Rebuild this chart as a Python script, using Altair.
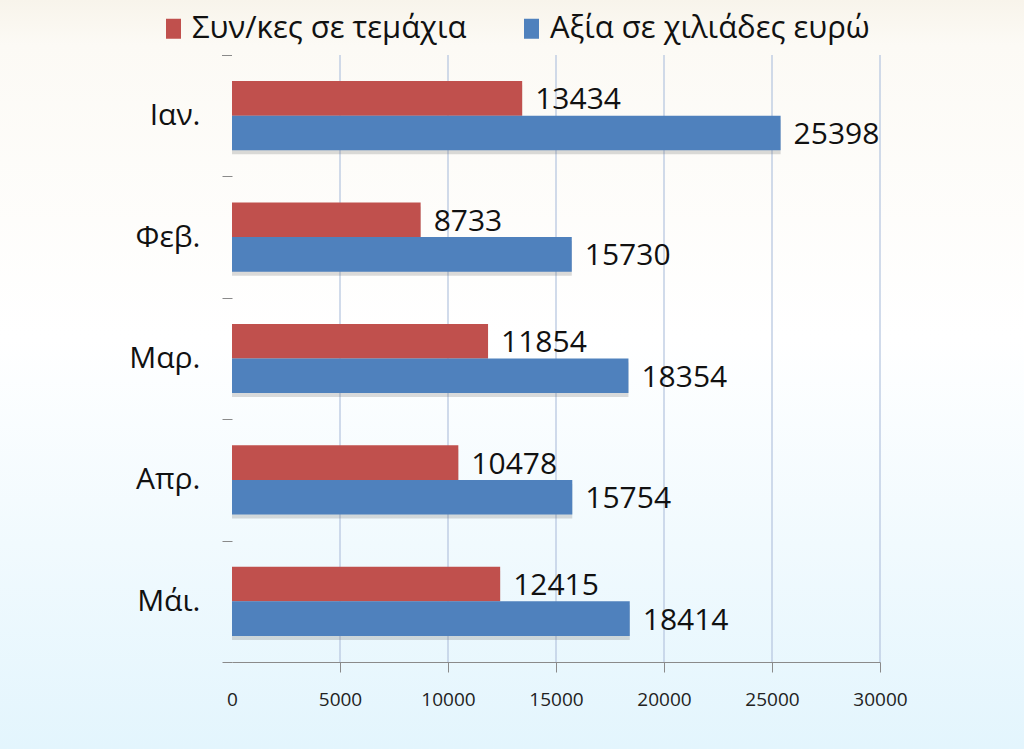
import altair as alt
import pandas as pd

months = ["Ιαν.", "Φεβ.", "Μαρ.", "Απρ.", "Μάι."]
series_names = ["Συν/κες σε τεμάχια", "Αξία σε χιλιάδες ευρώ"]
units = [13434, 8733, 11854, 10478, 12415]
value_keur = [25398, 15730, 18354, 15754, 18414]
colors = ["#C0504D", "#4F81BD"]
x_ticks = [0, 5000, 10000, 15000, 20000, 25000, 30000]

rows = []
for m, u, v in zip(months, units, value_keur):
    rows.append({"month": m, "series": series_names[0], "value": u})
    rows.append({"month": m, "series": series_names[1], "value": v})
df = pd.DataFrame(rows)
grid_df = pd.DataFrame({"tick": x_ticks[1:]})

W, H = 648, 607
PL, PT, PR, PB = 232, 55, 144, 87
FONT = "Open Sans"
STEP = H / len(months)
BAR = STEP * (1 - 0.43) / 2

y_scale = alt.Scale(domain=months, paddingInner=0.43, paddingOuter=0.215)
x_scale = alt.Scale(domain=[0, 30000], nice=False)

bg = alt.Chart(pd.DataFrame({"a": [0]})).mark_rect(
    color=alt.Gradient(
        gradient="linear",
        stops=[
            alt.GradientStop(color="#F8F4EB", offset=0),
            alt.GradientStop(color="#FCFAF5", offset=0.06),
            alt.GradientStop(color="#FFFFFF", offset=0.45),
            alt.GradientStop(color="#E3F5FD", offset=1),
        ],
        x1=0, x2=0, y1=0, y2=1,
    )
).encode(
    x=alt.value(-PL), x2=alt.value(W + PR),
    y=alt.value(-PT), y2=alt.value(H + PB),
)

grid = alt.Chart(grid_df).mark_rule(color="#B9C8E0", strokeWidth=1.3).encode(
    x=alt.X("tick:Q", scale=x_scale),
    y=alt.value(0), y2=alt.value(H),
)

top_tick = alt.Chart(pd.DataFrame({"a": [0]})).mark_rule(
    color="#8A8A8A", strokeWidth=1
).encode(x=alt.value(-10), x2=alt.value(0), y=alt.value(0.5))

base = alt.Chart(df)

x_axis = alt.Axis(
    values=x_ticks, format="d", grid=False, zindex=2, labelFlush=False,
    domainColor="#8A8A8A", tickColor="#8A8A8A", tickSize=10,
    tickOpacity={"condition": {"test": "datum.value === 0", "value": 0}, "value": 1},
    labelFont=FONT, labelFontSize=19, labelColor="#222222",
    labelPadding=18,
)

shadows = []
for i, s in enumerate(series_names):
    off = (-BAR / 2 if i == 0 else BAR / 2) + 4
    shadows.append(
        base.transform_filter(alt.datum.series == s)
        .mark_bar(color="#707070", opacity=0.25, height=BAR,
                  yOffset=off, x2Offset=4)
        .encode(
            y=alt.Y("month:N", scale=y_scale, sort=months),
            x=alt.X("value:Q", scale=x_scale),
        )
    )

bars = base.mark_bar().encode(
    y=alt.Y(
        "month:N", scale=y_scale, sort=months, title=None,
        axis=alt.Axis(
            domain=False, ticks=True, tickSize=10, zindex=2,
            tickOffset=STEP / 2, labelOffset=-STEP / 2,
            tickColor="#8A8A8A", labelFont=FONT, labelFontSize=30,
            labelColor="#111111", labelPadding=22, grid=False,
        ),
    ),
    yOffset=alt.YOffset("series:N", sort=series_names),
    x=alt.X("value:Q", scale=x_scale, title=None, axis=x_axis),
    color=alt.Color(
        "series:N", sort=series_names,
        scale=alt.Scale(domain=series_names, range=colors),
        legend=alt.Legend(
            title=None, orient="none", direction="horizontal", zindex=2,
            legendX=-74, legendY=-42,
            symbolType="M-0.75,-1H0.75V1H-0.75Z", symbolSize=400,
            symbolStrokeWidth=0, labelFont=FONT, labelFontSize=31,
            labelColor="#111111", labelOffset=3, columnPadding=49,
            labelLimit=500,
        ),
    ),
)

labels = base.mark_text(
    align="left", baseline="middle", dx=13, dy=2,
    font=FONT, fontSize=30, color="#111111",
).encode(
    y=alt.Y("month:N", scale=y_scale, sort=months),
    yOffset=alt.YOffset("series:N", sort=series_names),
    x=alt.X("value:Q", scale=x_scale),
    text=alt.Text("value:Q", format="d"),
)

chart = alt.layer(bg, grid, top_tick, *shadows, bars, labels).properties(
    width=W, height=H,
    autosize=alt.AutoSizeParams(type="none"),
    padding={"left": PL, "top": PT, "right": PR, "bottom": PB},
    background="#FFFFFF",
).configure_view(stroke=None)

chart.save("out.html", embed_options={"renderer": "svg", "actions": False})
